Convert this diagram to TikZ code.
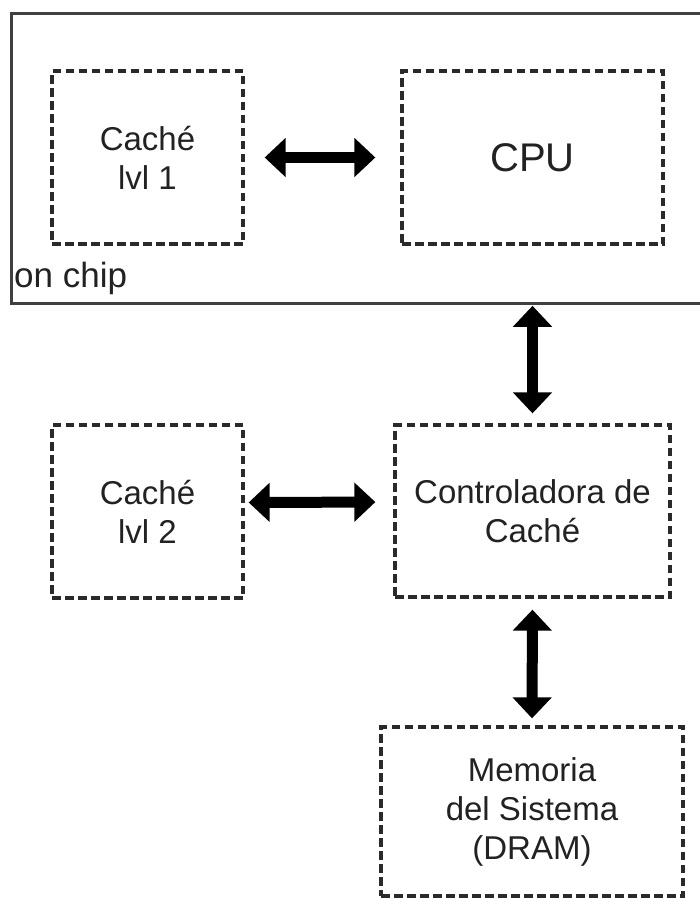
\documentclass[tikz,border=0pt]{standalone}
\usepackage{fontspec}
\setmainfont{Liberation Sans}
\usetikzlibrary{arrows.meta,calc}
\definecolor{txt}{HTML}{222222}
\definecolor{edge}{HTML}{2A2A2A}
\definecolor{chipedge}{HTML}{404040}
\tikzset{
  dbox/.style={draw=edge, line width=3.3pt, dash pattern=on 8.5pt off 4.5pt,
    minimum width=#1, inner sep=0pt, align=center, text=txt,
    font=\fontsize{33}{39}\selectfont},
  bigarrow/.style={line width=11pt, {Triangle[length=21pt,width=38pt]}-{Triangle[length=21pt,width=38pt]}}
}
\begin{document}
\begin{tikzpicture}[x=1pt,y=-1pt]
\useasboundingbox (0,0) rectangle (700,898);
\clip (0,0) rectangle (700,898);
\fill[white] (0,0) rectangle (700,898);
% on chip box
\node[draw=chipedge, line width=2.8pt, minimum width=710pt, minimum height=290pt, inner sep=0pt, anchor=north west] (chip) at (10,12) {};
\node[anchor=base west, inner sep=0pt, text=txt, font=\fontsize{35}{40}\selectfont] (onchip) at (14,287) {on chip};
% boxes
\node[dbox=191pt, minimum height=173pt] (l1) at (147.5,157.5) {Caché\\lvl 1};
\node[dbox=261pt, minimum height=173pt, font=\fontsize{40}{46}\selectfont] (cpu) at (532.5,157.5) {CPU};
\node[dbox=191pt, minimum height=173pt] (l2) at (147.5,511.5) {Caché\\lvl 2};
\node[dbox=275pt, minimum height=172pt] (ctrl) at (532.5,511) {Controladora de\\Caché};
\node[dbox=302pt, minimum height=169pt] (mem) at (532,811.5) {Memoria\\del Sistema\\(DRAM)};
% arrows
\draw[bigarrow, shorten <=20pt, shorten >=25pt] (l1.east) -- (cpu.west);
\draw[bigarrow, shorten <=1pt, shorten >=10pt] (chip.south -| ctrl.north) -- (ctrl.north);
\draw[bigarrow, shorten <=4pt, shorten >=18pt] ($(l2.east)+(0,-9)$) -- ($(ctrl.west)+(0,-9)$);
\draw[bigarrow, shorten <=11pt, shorten >=7pt] (ctrl.south) -- (mem.north);
\end{tikzpicture}
\end{document}
